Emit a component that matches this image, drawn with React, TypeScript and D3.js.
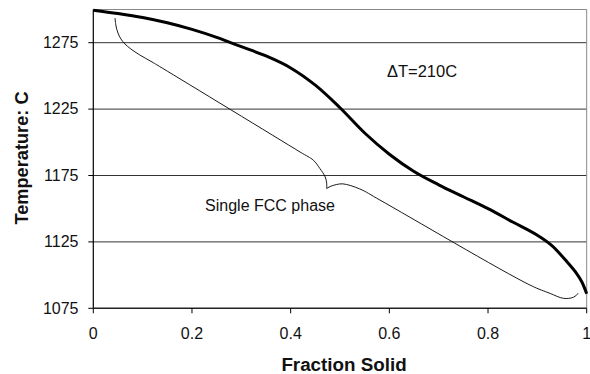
import * as d3 from "d3";

// Solidification path: fraction solid vs temperature (C)
const fracSolid = [0, 0.05, 0.1, 0.15, 0.2, 0.25, 0.3, 0.35, 0.4, 0.45, 0.5, 0.55, 0.6, 0.65, 0.7, 0.75, 0.8, 0.85, 0.9, 0.93, 0.96, 0.98, 0.99, 1];
const temperature = [1299.5, 1297, 1294, 1290, 1285, 1279, 1272, 1265, 1256, 1243, 1226, 1207, 1191, 1178, 1168, 1159, 1150, 1140, 1130, 1122, 1110, 1101, 1095, 1086];

// brace annotation ("Single FCC phase"), in data units
const braceUpper: [number, number][] = [
  [0.044, 1293.6], [0.046, 1287.6], [0.05, 1282.3], [0.056, 1277.8], [0.064, 1274.1], [0.076, 1270.3],
  [0.094, 1265.8], [0.119, 1260.5], [0.141, 1255.6], [0.419, 1192.7], [0.446, 1186.5], [0.459, 1180.4],
  [0.47, 1173.9], [0.473, 1169.2], [0.473, 1165.2],
];
const braceLower: [number, number][] = [
  [0.473, 1165.2], [0.48, 1166.7], [0.493, 1168.2], [0.506, 1168.7], [0.54, 1164.9], [0.581, 1156.5],
  [0.885, 1092.5], [0.926, 1086.2], [0.953, 1082.5], [0.973, 1083.3], [0.983, 1086.3],
];

const xTicks = [0, 0.2, 0.4, 0.6, 0.8, 1];
const yTicks = [1075, 1125, 1175, 1225, 1275];
const gridTicks = [1125, 1175, 1225, 1275];

const W = 590;
const H = 374;
const m = { left: 93.3, right: 3.3, top: 9.5, bottom: 65.7 };

export default function App() {
  const x = d3.scaleLinear().domain([0, 1]).range([m.left, W - m.right]);
  const y = d3.scaleLinear().domain([1075, 1300]).range([H - m.bottom, m.top]);

  const pts = fracSolid.map((f, i) => [f, temperature[i]] as [number, number]);
  const mainLine = d3.line<[number, number]>()
    .x(d => x(d[0])).y(d => y(d[1]))
    .curve(d3.curveCatmullRom.alpha(0.5));
  const braceLine = d3.line<[number, number]>()
    .x(d => x(d[0])).y(d => y(d[1]))
    .curve(d3.curveCatmullRom.alpha(0.5));

  const font = "'Liberation Sans', Arial, sans-serif";
  const x0 = x(0), x1 = x(1), yB = y(1075), yT = y(1300);

  return (
    <svg width={W} height={H} style={{ position: "fixed", left: 0, top: 0, background: "#fff" }} fontFamily={font}>
      {/* grid */}
      {gridTicks.map(t => (
        <line key={t} x1={x0} x2={x1} y1={y(t)} y2={y(t)} stroke="#333" strokeWidth={1} />
      ))}
      <line x1={x0} x2={x1} y1={yT} y2={yT} stroke="#888" strokeWidth={1} />
      <line x1={x1} x2={x1} y1={yT} y2={yB} stroke="#888" strokeWidth={1} />

      {/* axes */}
      <line x1={x0} x2={x0} y1={yT} y2={yB} stroke="#000" strokeWidth={1.2} />
      <line x1={x0} x2={x1} y1={yB} y2={yB} stroke="#222" strokeWidth={1.4} />
      {yTicks.map(t => (
        <g key={t}>
          <line x1={x0 - 5} x2={x0} y1={y(t)} y2={y(t)} stroke="#000" />
          <text x={78.5} y={y(t)} dy="0.33em" textAnchor="end" fontSize={16} fill="#111">{t}</text>
        </g>
      ))}
      {xTicks.map(t => (
        <g key={t}>
          <line x1={x(t)} x2={x(t)} y1={yB} y2={yB + 5} stroke="#000" />
          <text x={x(t)} y={339} textAnchor="middle" fontSize={16} fill="#111">{t}</text>
        </g>
      ))}

      {/* brace */}
      <path d={braceLine(braceUpper) ?? ""} fill="none" stroke="#000" strokeWidth={0.9} />
      <path d={braceLine(braceLower) ?? ""} fill="none" stroke="#000" strokeWidth={0.9} />

      {/* main curve */}
      <path d={mainLine(pts) ?? ""} fill="none" stroke="#000" strokeWidth={3} strokeLinejoin="round" />

      {/* annotations */}
      <text x={422} y={77} textAnchor="middle" fontSize={16.5} fill="#111">ΔT=210C</text>
      <text x={270} y={211} textAnchor="middle" fontSize={16} fill="#111">Single FCC phase</text>

      {/* axis titles */}
      <text x={(x0 + x1) / 2 + 4} y={371} textAnchor="middle" fontSize={18.8} fontWeight="bold" fill="#111">Fraction Solid</text>
      <text transform={`translate(28,158) rotate(-90)`} textAnchor="middle" fontSize={18.2} fontWeight="bold" fill="#111">Temperature: C</text>
    </svg>
  );
}
